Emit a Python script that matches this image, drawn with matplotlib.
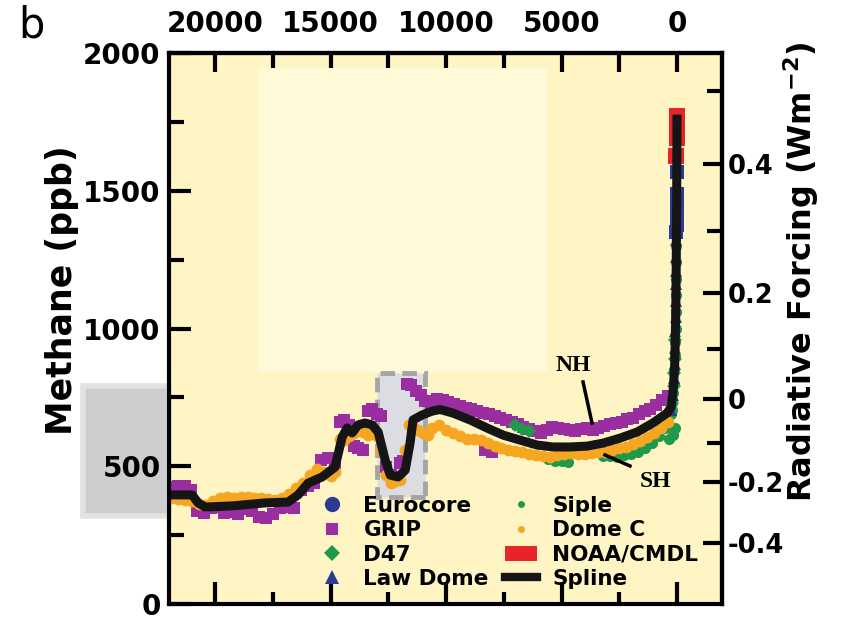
import numpy as np
import matplotlib
matplotlib.use("Agg")
import matplotlib.pyplot as plt
import matplotlib.patches as mpatches
from matplotlib.lines import Line2D

plt.rcParams["font.family"] = ["DejaVu Sans"]
plt.rcParams["font.weight"] = "bold"
plt.rcParams["axes.labelweight"] = "bold"
plt.rcParams["mathtext.default"] = "bf"

# --- ice core / atmospheric methane records (years before 2005, ppb) ---
grip_yr = [21900, 21600, 21300, 21050, 20800, 20500, 20200, 19900, 19600, 19300,
           19000, 18700, 18400, 18100, 17800, 17500, 17200, 16900, 16600, 16300,
           16000, 15700, 15400, 15100, 14800, 14600, 14400, 14200, 14000, 13800,
           13600, 13400, 13200, 13000, 12800, 12600, 12400, 12200, 12000, 11850,
           11700, 11500, 11300, 11100, 10900, 10650, 10400, 10150, 9900, 9650,
           9400, 9150, 8900, 8650, 8400, 8150, 7900, 7650, 7400, 7150,
           6900, 6650, 6400, 6150, 5900, 5650, 5400, 5150, 4900, 4650,
           4400, 4150, 3900, 3650, 3400, 3150, 2900, 2650, 2400, 2150,
           1900, 1650, 1400, 1150, 900, 650, 400, 8300, 8000, 16750]
grip_ppb = [425, 430, 428, 412, 338, 332, 348, 352, 330, 334,
            328, 345, 336, 316, 312, 326, 348, 352, 348, 412,
            428, 438, 522, 530, 512, 662, 668, 648, 572, 566,
            560, 702, 706, 690, 682, 498, 470, 462, 512, 520,
            800, 795, 772, 758, 738, 730, 745, 740, 732, 726,
            720, 712, 706, 700, 695, 690, 682, 676, 668, 660,
            652, 644, 636, 628, 622, 630, 642, 640, 636, 632,
            628, 634, 640, 632, 638, 646, 652, 656, 662, 670,
            676, 688, 700, 708, 722, 740, 756, 560, 552, 370]

domec_yr = [21900, 21600, 21300, 21000, 20700, 20400, 20100, 19800, 19500, 19200,
            18900, 18600, 18300, 18000, 17700, 17400, 17100, 16800, 16500, 16200,
            15900, 15600, 15300, 15000, 14800, 14600, 14400, 14200, 14000, 13800,
            13600, 13400, 13200, 13000, 12800, 12600, 12400, 12200, 12000, 11800,
            11600, 11400, 11200, 11000, 10800, 10600, 10300, 10000, 9700, 9400,
            9100, 8800, 8500, 8200, 7900, 7600, 7300, 7000, 6700, 6400,
            6100, 5800, 5500, 5200, 4900, 4600, 4300, 4000, 3700, 3400,
            3100, 2800, 2500, 2200, 1900, 1600, 1300, 1000, 700, 400]
domec_ppb = [385, 380, 378, 375, 362, 360, 375, 385, 390, 385,
             388, 390, 385, 385, 380, 378, 385, 400, 420, 440,
             470, 490, 480, 465, 480, 600, 595, 610, 620, 630,
             625, 615, 620, 610, 560, 470, 440, 445, 450, 560,
             650, 640, 630, 620, 615, 640, 648, 630, 620, 610,
             600, 598, 595, 585, 575, 565, 560, 555, 550, 545,
             540, 538, 535, 540, 545, 548, 545, 545, 548, 550,
             552, 560, 565, 570, 580, 590, 605, 620, 640, 660]

siple_yr = [5600, 5300, 5000, 4700, 3200, 2900, 2600, 2300, 2000, 1700,
            1400, 1100, 800, 500, 350, 180, 100, 260, 230, 200,
            170, 140, 110, 90, 75, 60, 50, 40, 35, 30, 25]
siple_ppb = [525, 520, 518, 515, 538, 536, 535, 540, 545, 552,
             565, 585, 610, 640, 598, 612, 640, 690, 705, 730,
             765, 800, 850, 900, 950, 1000, 1060, 1120, 1180, 1240, 1300]

d47_yr = [7000, 6700, 6400, 200, 150, 120, 95, 70]
d47_ppb = [648, 636, 628, 730, 790, 840, 890, 960]

lawdome_yr = [240, 180, 130, 100, 80, 65, 55, 45, 38, 32, 27, 22, 18]
lawdome_ppb = [705, 760, 820, 870, 930, 990, 1040, 1100, 1160, 1210, 1260, 1320, 1370]

eurocore_yr = [22, 19, 17, 15, 13, 11, 9, 6]
eurocore_ppb = [1350, 1375, 1400, 1425, 1450, 1475, 1490, 1568]

noaa_yr = [21, 16, 11, 6, 1]
noaa_ppb = [1625, 1690, 1725, 1750, 1772]

spline_yr = [22100, 21860, 21000, 20740, 20430, 19260, 17840, 16840, 16410, 15970,
             15370, 14810, 14500, 14290, 14070, 13810, 13510, 13200, 12940, 12640,
             12420, 12080, 11770, 11560, 11430, 11040, 10610, 10260, 9700, 8960,
             8230, 7530, 6800, 6060, 5370, 4630, 3900, 3200, 2470, 1730,
             1040, 430, 250, 150, 100, 75, 50, 30, 15, 5, 0]
spline_ppb = [396, 396, 396, 367, 352, 356, 367, 370, 396, 439,
              461, 497, 606, 639, 621, 650, 657, 650, 624, 523,
              468, 461, 486, 584, 668, 686, 700, 706, 693, 668,
              639, 613, 595, 577, 570, 570, 573, 584, 602, 624,
              657, 693, 715, 790, 870, 950, 1080, 1250, 1450, 1620, 1760]

glacial_range = (320, 790)          # natural range, ppb
younger_dryas = (12990, 10910, 388, 838)

top_ticks = [20000, 15000, 10000, 5000, 0]
rf_ticks = [0.4, 0.2, 0, -0.2, -0.4]
rf_labels = ["0.4", "0.2", "0", "-0.2", "-0.4"]

# --- methane radiative forcing (simplified expression) ---
M0, N0 = 745.0, 270.0


def overlap(m, n):
    return 0.47 * np.log(1 + 2.01e-5 * (m * n) ** 0.75 + 5.31e-15 * m * (m * n) ** 1.52)


def ppb_to_rf(m):
    m = np.clip(np.asarray(m, dtype=float), 0, None)
    return 0.036 * (np.sqrt(m) - np.sqrt(M0)) - (overlap(m, N0) - overlap(M0, N0))


_grid = np.linspace(0, 5000, 5001)
_rf_grid = ppb_to_rf(_grid)


def rf_to_ppb(r):
    return np.interp(np.asarray(r, dtype=float), _rf_grid, _grid)


# colours
purple = "#9a2ea0"
orange = "#f5a623"
green = "#1f9a4c"
blue = "#2c3a95"
red = "#e8232a"

fig = plt.figure(figsize=(8.52, 6.17), dpi=100)
ax = fig.add_axes([169 / 852, 1 - 604 / 617, 553 / 852, 551 / 617])
ax.set_facecolor("#fff5c4")
ax.set_xlim(22000, -1950)
ax.set_ylim(0, 2000)

ax.add_patch(mpatches.Rectangle((5630, 842), 18140 - 5630, 1946 - 842,
                                facecolor="#fff9d8", edgecolor="none", zorder=0.5))

# glacial-interglacial range bar left of the axis
ax.add_patch(mpatches.Rectangle((-0.155, glacial_range[0]), 0.155,
                                glacial_range[1] - glacial_range[0],
                                transform=ax.get_yaxis_transform(), clip_on=False,
                                facecolor="#cdcdcd", edgecolor="#e2e2e2", lw=4, zorder=0))

# Younger Dryas box
yd0, yd1, yb, yt = younger_dryas
ax.add_patch(mpatches.Rectangle((yd1, yb), yd0 - yd1, yt - yb, facecolor="#dcdce3",
                                edgecolor="#a5a5a5", lw=3.5, linestyle=(0, (3, 1.5)),
                                zorder=1))

ms = dict(linestyle="none", markeredgewidth=0)
ax.plot(grip_yr, grip_ppb, marker="s", markersize=9, color=purple, zorder=2, **ms)
ax.plot(domec_yr, domec_ppb, marker="o", markersize=8.5, color=orange, zorder=2.2, **ms)
ax.plot(siple_yr, siple_ppb, marker="o", markersize=8, color=green, zorder=2.1, **ms)
ax.plot(d47_yr, d47_ppb, marker="D", markersize=7, color=green, zorder=2.3, **ms)
ax.plot(lawdome_yr, lawdome_ppb, marker="^", markersize=8, color=blue, zorder=2.4, **ms)
ax.plot(eurocore_yr, eurocore_ppb, marker="s", markersize=10, color=blue, zorder=2.5, **ms)
ax.plot(noaa_yr, noaa_ppb, marker="s", markersize=11, color=red, zorder=2.6, **ms)
ax.plot(spline_yr, spline_ppb, color="#151515", lw=6.5, solid_joinstyle="round", zorder=3)

# hemisphere annotations
ax.text(4500, 867, "NH", family="Liberation Serif", fontsize=17, weight="bold",
        ha="center", va="center", zorder=5)
ax.plot([4069, 3680], [806, 657], color="k", lw=2.5, zorder=5)
ax.text(950, 443, "SH", family="Liberation Serif", fontsize=17, weight="bold",
        ha="center", va="center", zorder=5)
ax.plot([3117, 2035], [541, 501], color="k", lw=2.5, zorder=5)

# axes styling
for sp in ax.spines.values():
    sp.set_linewidth(3)
    sp.set_zorder(6)

ax.set_xticks(top_ticks)
ax.set_xticks([17500, 12500, 7500, 2500], minor=True)
ax.tick_params(axis="x", which="both", direction="in", width=3, labelbottom=False)
ax.tick_params(axis="x", which="major", length=16)
ax.tick_params(axis="x", which="minor", length=8.5)

ax.set_yticks([0, 500, 1000, 1500, 2000])
ax.set_yticks([250, 750, 1250, 1750], minor=True)
ax.tick_params(axis="y", which="both", direction="in", width=3, labelsize=20, pad=6)
ax.tick_params(axis="y", which="major", length=16)
ax.tick_params(axis="y", which="minor", length=11)

ax.set_ylabel("Methane (ppb)", fontsize=25, va="center")
ax.yaxis.set_label_coords(-0.193, 0.570)

secx = ax.secondary_xaxis("top")
secx.set_xticks(top_ticks, labels=[str(t) for t in top_ticks])
secx.set_xticks([17500, 12500, 7500, 2500], minor=True)
secx.tick_params(which="both", direction="in", width=3, length=14, labelsize=20, pad=11)
secx.spines["top"].set_linewidth(3)

secy = ax.secondary_yaxis("right", functions=(ppb_to_rf, rf_to_ppb))
secy.set_yticks(rf_ticks, labels=rf_labels)
secy.set_yticks([0.5, 0.3, 0.1, -0.1], minor=True)
secy.tick_params(which="both", direction="in", width=3, labelsize=18.5, pad=4)
secy.tick_params(which="major", length=14)
secy.tick_params(which="minor", length=11)
secy.spines["right"].set_linewidth(3)
fig.text(801 / 852, 1 - 272 / 617, "Radiative Forcing (Wm$^{-2}$)", fontsize=23,
         rotation=90, ha="center", va="center")

# legend
handles = [
    Line2D([], [], marker="o", markersize=11, color=blue, ls="none", mew=0),
    Line2D([], [], marker="s", markersize=9, color=purple, ls="none", mew=0),
    Line2D([], [], marker="D", markersize=8, color=green, ls="none", mew=0),
    Line2D([], [], marker="^", markersize=10, color=blue, ls="none", mew=0),
    Line2D([], [], marker="o", markersize=5, color=green, ls="none", mew=0),
    Line2D([], [], marker="o", markersize=5, color=orange, ls="none", mew=0),
    mpatches.Patch(facecolor=red, edgecolor="none"),
    Line2D([], [], color="#151515", lw=6),
]
labels = ["Eurocore", "GRIP", "D47", "Law Dome", "Siple", "Dome C", "NOAA/CMDL", "Spline"]
leg = ax.legend(handles, labels, ncol=2, loc="upper left", bbox_to_anchor=(0.266, 0.196),
                frameon=False, borderpad=0, borderaxespad=0, handlelength=1.5,
                handletextpad=0.7, columnspacing=0.75, labelspacing=0.2,
                prop={"size": 15.5, "weight": "bold"})
leg.set_zorder(7)

fig.text(18 / 852, 1 - 25 / 617, "b", fontsize=30, fontweight="normal",
         ha="left", va="center")

fig.savefig("out.png", dpi=100)
